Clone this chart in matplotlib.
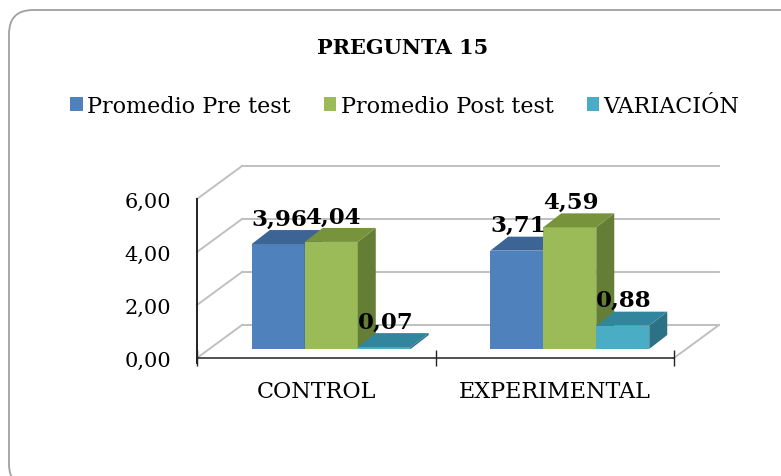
import matplotlib
matplotlib.use('Agg')
import matplotlib.pyplot as plt
from matplotlib.patches import Polygon, Patch, FancyBboxPatch

# data
categories = ['CONTROL', 'EXPERIMENTAL']
series = ['Promedio Pre test', 'Promedio Post test', 'VARIACIÓN']
pre_test = [3.96, 3.71]
post_test = [4.04, 4.59]
variacion = [0.07, 0.88]
y_ticks = [0, 2, 4, 6]
title = 'PREGUNTA 15'

values = [pre_test, post_test, variacion]
front_colors = ['#4F81BD', '#9BBB59', '#4BACC6']
top_colors = ['#3C6494', '#77933C', '#31859C']
side_colors = ['#33557F', '#657E35', '#2C7184']

plt.rcParams['font.family'] = 'DejaVu Serif'

fig = plt.figure(figsize=(7.81, 4.77), dpi=100)
ax = fig.add_axes([0.2369, 0.2034, 0.6978, 0.5031])
ax.set_xlim(-0.0503, 2.2348)
ax.set_ylim(-0.7925, 8.264)

# fake 3d geometry (data units)
wall_dx, wall_dy = 0.1887, 1.245
bar_ox, bar_oy = 0.0629, 0.34
bar_dx, bar_dy = 0.0755, 0.528
bar_w = 0.2222
grid_c = '#C0C0C0'

# walls
for yv in y_ticks:
    ax.plot([wall_dx, len(categories) + wall_dx], [yv + wall_dy, yv + wall_dy],
            color=grid_c, lw=1.4, zorder=1)
    ax.plot([0, wall_dx], [yv, yv + wall_dy], color=grid_c, lw=1.4, zorder=1)
ax.plot([len(categories), len(categories) + wall_dx], [0, wall_dy],
        color=grid_c, lw=1.4, zorder=1)

# bars
for i in range(len(categories)):
    c = i + 0.5
    for j in range(len(series)):
        v = values[j][i]
        xl = c + bar_ox - 1.5 * bar_w + j * bar_w
        z = 3 + j
        ax.bar(xl, v, bar_w, bottom=bar_oy, align='edge',
               color=front_colors[j], linewidth=0, zorder=z)
        top = [(xl, bar_oy + v), (xl + bar_w, bar_oy + v),
               (xl + bar_w + bar_dx, bar_oy + v + bar_dy), (xl + bar_dx, bar_oy + v + bar_dy)]
        side = [(xl + bar_w, bar_oy), (xl + bar_w + bar_dx, bar_oy + bar_dy),
                (xl + bar_w + bar_dx, bar_oy + v + bar_dy), (xl + bar_w, bar_oy + v)]
        ax.add_patch(Polygon(side, closed=True, facecolor=side_colors[j], lw=0, zorder=z))
        ax.add_patch(Polygon(top, closed=True, facecolor=top_colors[j], lw=0, zorder=z))
        ax.annotate(f'{v:.2f}'.replace('.', ','), (xl + bar_w / 2, bar_oy + v + bar_dy),
                    xytext=(1, 4), textcoords='offset points', ha='center',
                    va='baseline', fontsize=16.5, fontweight='bold', zorder=10)

# axes
for s in ['top', 'right']:
    ax.spines[s].set_visible(False)
ax.spines['left'].set_position(('data', 0))
ax.spines['left'].set_bounds(-0.2, 6)
ax.spines['left'].set_linewidth(1.4)
ax.spines['left'].set_color('#222222')
ax.spines['bottom'].set_position(('data', 0))
ax.spines['bottom'].set_bounds(0, len(categories))
ax.spines['bottom'].set_linewidth(1.1)
ax.spines['bottom'].set_color('#222222')

ax.set_yticks(y_ticks)
ax.set_yticklabels([f'{t:.2f}'.replace('.', ',') for t in y_ticks], fontsize=15)
ax.tick_params(axis='y', length=0, pad=18.5)

ax.set_xticks(range(len(categories) + 1))
ax.set_xticklabels([])
ax.tick_params(axis='x', which='major', direction='inout', length=12, width=1, color='#222222')
ax.set_xticks([i + 0.5 for i in range(len(categories))], minor=True)
ax.set_xticklabels(categories, minor=True, fontsize=16)
ax.tick_params(axis='x', which='minor', length=0, pad=15.5)

# title and legend
fig.text(403 / 781, 1 - 48 / 477, title, ha='center', va='center',
         fontsize=15, fontweight='bold')
handles = [Patch(facecolor=col, edgecolor='none') for col in front_colors]
fig.legend(handles, series, loc='center', bbox_to_anchor=(405 / 781, 1 - 107 / 477),
           ncol=3, frameon=False, fontsize=16, handlelength=0.55, handleheight=0.55,
           handletextpad=0.2, columnspacing=1.5)

# rounded chart border
border = FancyBboxPatch((0.09, -0.12), 7.98, 4.78, boxstyle='round,pad=0,rounding_size=0.24',
                        transform=fig.dpi_scale_trans, facecolor='none',
                        edgecolor='#A0A0A0', lw=1.3)
fig.patches.append(border)

fig.savefig('out.png', dpi=100)
